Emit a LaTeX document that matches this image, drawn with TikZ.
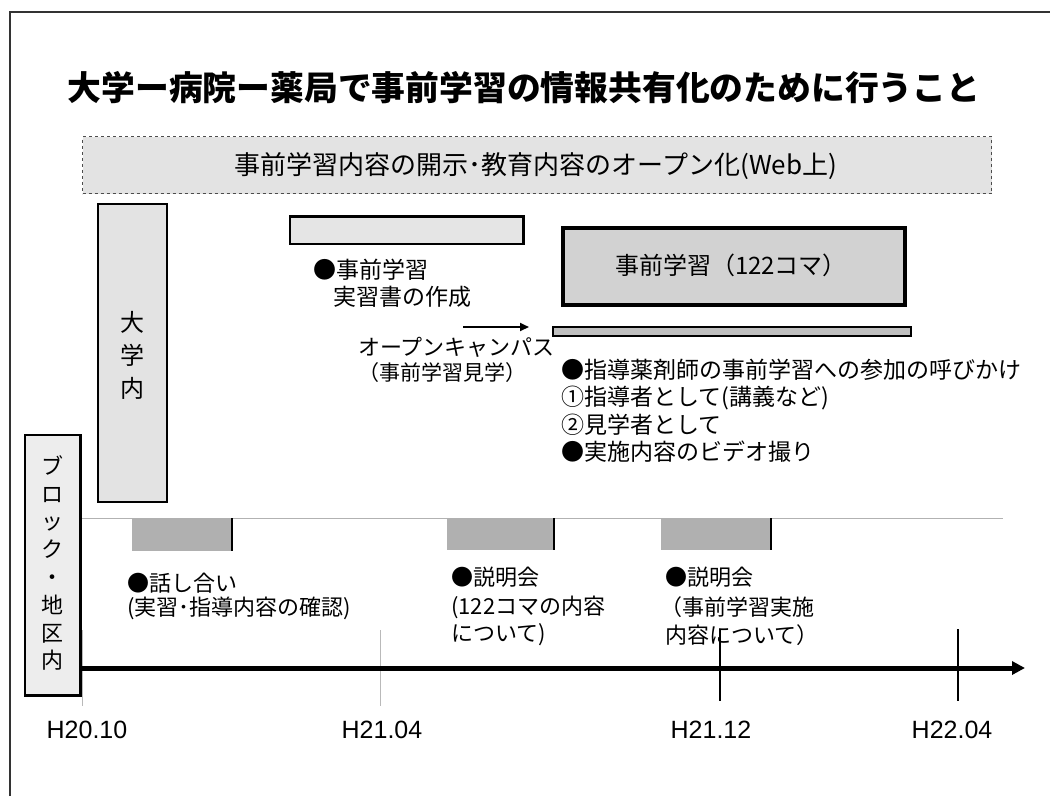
\documentclass[tikz,border=0pt]{standalone}
\usepackage{fontspec}
\setmainfont{Liberation Sans}
\newfontfamily\jp{Noto Sans CJK JP}
\usetikzlibrary{arrows.meta}
\begin{document}
\begin{tikzpicture}[x=1pt,y=-1pt,
  lightbox/.style={draw=black, line width=2pt, fill=gray!22, inner sep=0pt, anchor=north west},
  darkbox/.style={fill=gray!62, inner sep=0pt, anchor=north west},
  jpt/.style={font={\jp\fontsize{#1}{#1}\selectfont}, inner sep=0pt},
  jptl/.style={jpt=#1, anchor=west},
  datel/.style={font={\fontsize{25}{30}\selectfont}, inner sep=0pt},
  tick/.style={line width=2.5pt},
  faint/.style={gray!55, line width=0.6pt}
]
\useasboundingbox (0,0) rectangle (1050,796);
% frame
\coordinate (f1) at (10,796);
\coordinate (f2) at (10,12);
\coordinate (f3) at (1050,12);
\draw[line width=1.2pt, gray!40!black] (f1) -- (f2) -- (f3);

% title
\node[font={\jp\bfseries\fontsize{33.8}{40}\selectfont}, inner sep=0pt] (title) at (524,88) {大学ー病院ー薬局で事前学習の情報共有化のために行うこと};

% dashed web box
\node[draw=gray!60!black, dashed, line width=1pt, fill=gray!22, minimum width=909pt, minimum height=57pt, inner sep=0pt, anchor=north west] (web) at (82,136) {};
\node[jpt=26] (webt) at (536,166) {事前学習内容の開示･教育内容のオープン化(Web上)};

% university box
\node[lightbox, minimum width=69pt, minimum height=298pt] (univ) at (97,203) {};
\node[font={\jp\fontsize{24}{33}\selectfont}, align=center, inner sep=0pt] (univt) at (132,355) {大\\学\\内};

% block box
\node[draw=black, line width=1.5pt, fill=gray!14, inner sep=0pt, anchor=north west, minimum width=55pt, minimum height=260pt] (block) at (24,434) {};
\draw[line width=3pt] (block.north east) -- (block.south east) -- (block.south west);
\node[font={\jp\fontsize{22}{27.8}\selectfont}, align=center, inner sep=0pt] (blockt) at (52,563) {ブ\\ロ\\ッ\\ク\\・\\地\\区\\内};

% jisshusho box
\node[lightbox, line width=1.5pt, fill=gray!20, minimum width=233pt, minimum height=27pt] (jbox) at (289,216) {};
\draw[line width=2.5pt] (jbox.north west) -- (jbox.north east) -- (jbox.south east);
\node[jptl=23] (j1) at (313,270) {●事前学習};
\node[jptl=23] (j2) at (333,297) {実習書の作成};

% open campus arrow
\coordinate (oa1) at (463,327);
\coordinate (oa2) at (529,327);
\draw[line width=2pt, -{Triangle[length=9pt,width=8pt]}] (oa1) -- (oa2);
\node[jptl=22] (oc1) at (358,347) {オープンキャンパス};
\node[jptl=21] (oc2) at (358,373) {（事前学習見学）};

% 122 box
\node[draw=black, line width=3.5pt, fill=gray!35, inner sep=0pt, anchor=north west, minimum width=342pt, minimum height=77pt] (b122) at (561,226) {};
\node[jpt=24] (b122t) at (731,265) {事前学習（122コマ）};

% thin bar
\node[draw=black, line width=1.8pt, fill=gray!50, inner sep=0pt, anchor=north west, minimum width=358pt, minimum height=9pt] (bar) at (552,326) {};

% right text block
\node[jptl=23] (r1) at (561,370) {●指導薬剤師の事前学習への参加の呼びかけ};
\node[jptl=23] (r2) at (561,398) {①指導者として(講義など)};
\node[jptl=23] (r3) at (561,425) {②見学者として};
\node[jptl=23] (r4) at (561,452) {●実施内容のビデオ撮り};

% thin horizontal line
\coordinate (hl1) at (82,518);
\coordinate (hl2) at (1003,518);
\draw[gray!60, line width=1pt] (hl1) -- (hl2);

% dark boxes
\node[darkbox, minimum width=100pt, minimum height=33pt] (d1) at (132,518) {};
\node[darkbox, minimum width=107pt, minimum height=32pt] (d2) at (447,518) {};
\node[darkbox, minimum width=110pt, minimum height=32pt] (d3) at (661,518) {};
\draw[line width=2pt] (d1.north east) -- (d1.south east);
\draw[line width=2pt] (d2.north east) -- (d2.south east);
\draw[line width=2pt] (d3.north east) -- (d3.south east);

% texts under dark boxes
\node[jptl=22] (h1) at (127,583) {●話し合い};
\node[jptl=22] (h2) at (127,608) {(実習･指導内容の確認)};
\node[jptl=22] (s1) at (451,577) {●説明会};
\node[jptl=22] (s2) at (451,607) {(122コマの内容};
\node[jptl=22] (s3) at (451,635) {について)};
\node[jptl=22] (u1) at (665,577) {●説明会};
\node[jptl=22] (u2) at (660,607) {（事前学習実施};
\node[jptl=22] (u3) at (665,635) {内容について）};

% faint ticks
\coordinate (ft1a) at (82,630); \coordinate (ft1b) at (82,706);
\coordinate (ft2a) at (380,630); \coordinate (ft2b) at (380,706);
\draw[faint] (ft1a) -- (ft1b);
\draw[faint] (ft2a) -- (ft2b);

% axis
\coordinate (ax0) at (79,668);
\coordinate (ax1) at (1025,668);
\draw[line width=5pt, -{Triangle[length=13pt,width=13pt]}] (ax0) -- (ax1);

% ticks
\coordinate (t1a) at (720,629); \coordinate (t1b) at (720,701);
\coordinate (t2a) at (958,629); \coordinate (t2b) at (958,701);
\draw[tick] (t1a) -- (t1b);
\draw[tick] (t2a) -- (t2b);

% date labels
\node[datel] (l1) at (87,730) {H20.10};
\node[datel] (l2) at (382,730) {H21.04};
\node[datel] (l3) at (711,730) {H21.12};
\node[datel] (l4) at (952,730) {H22.04};
\end{tikzpicture}
\end{document}
